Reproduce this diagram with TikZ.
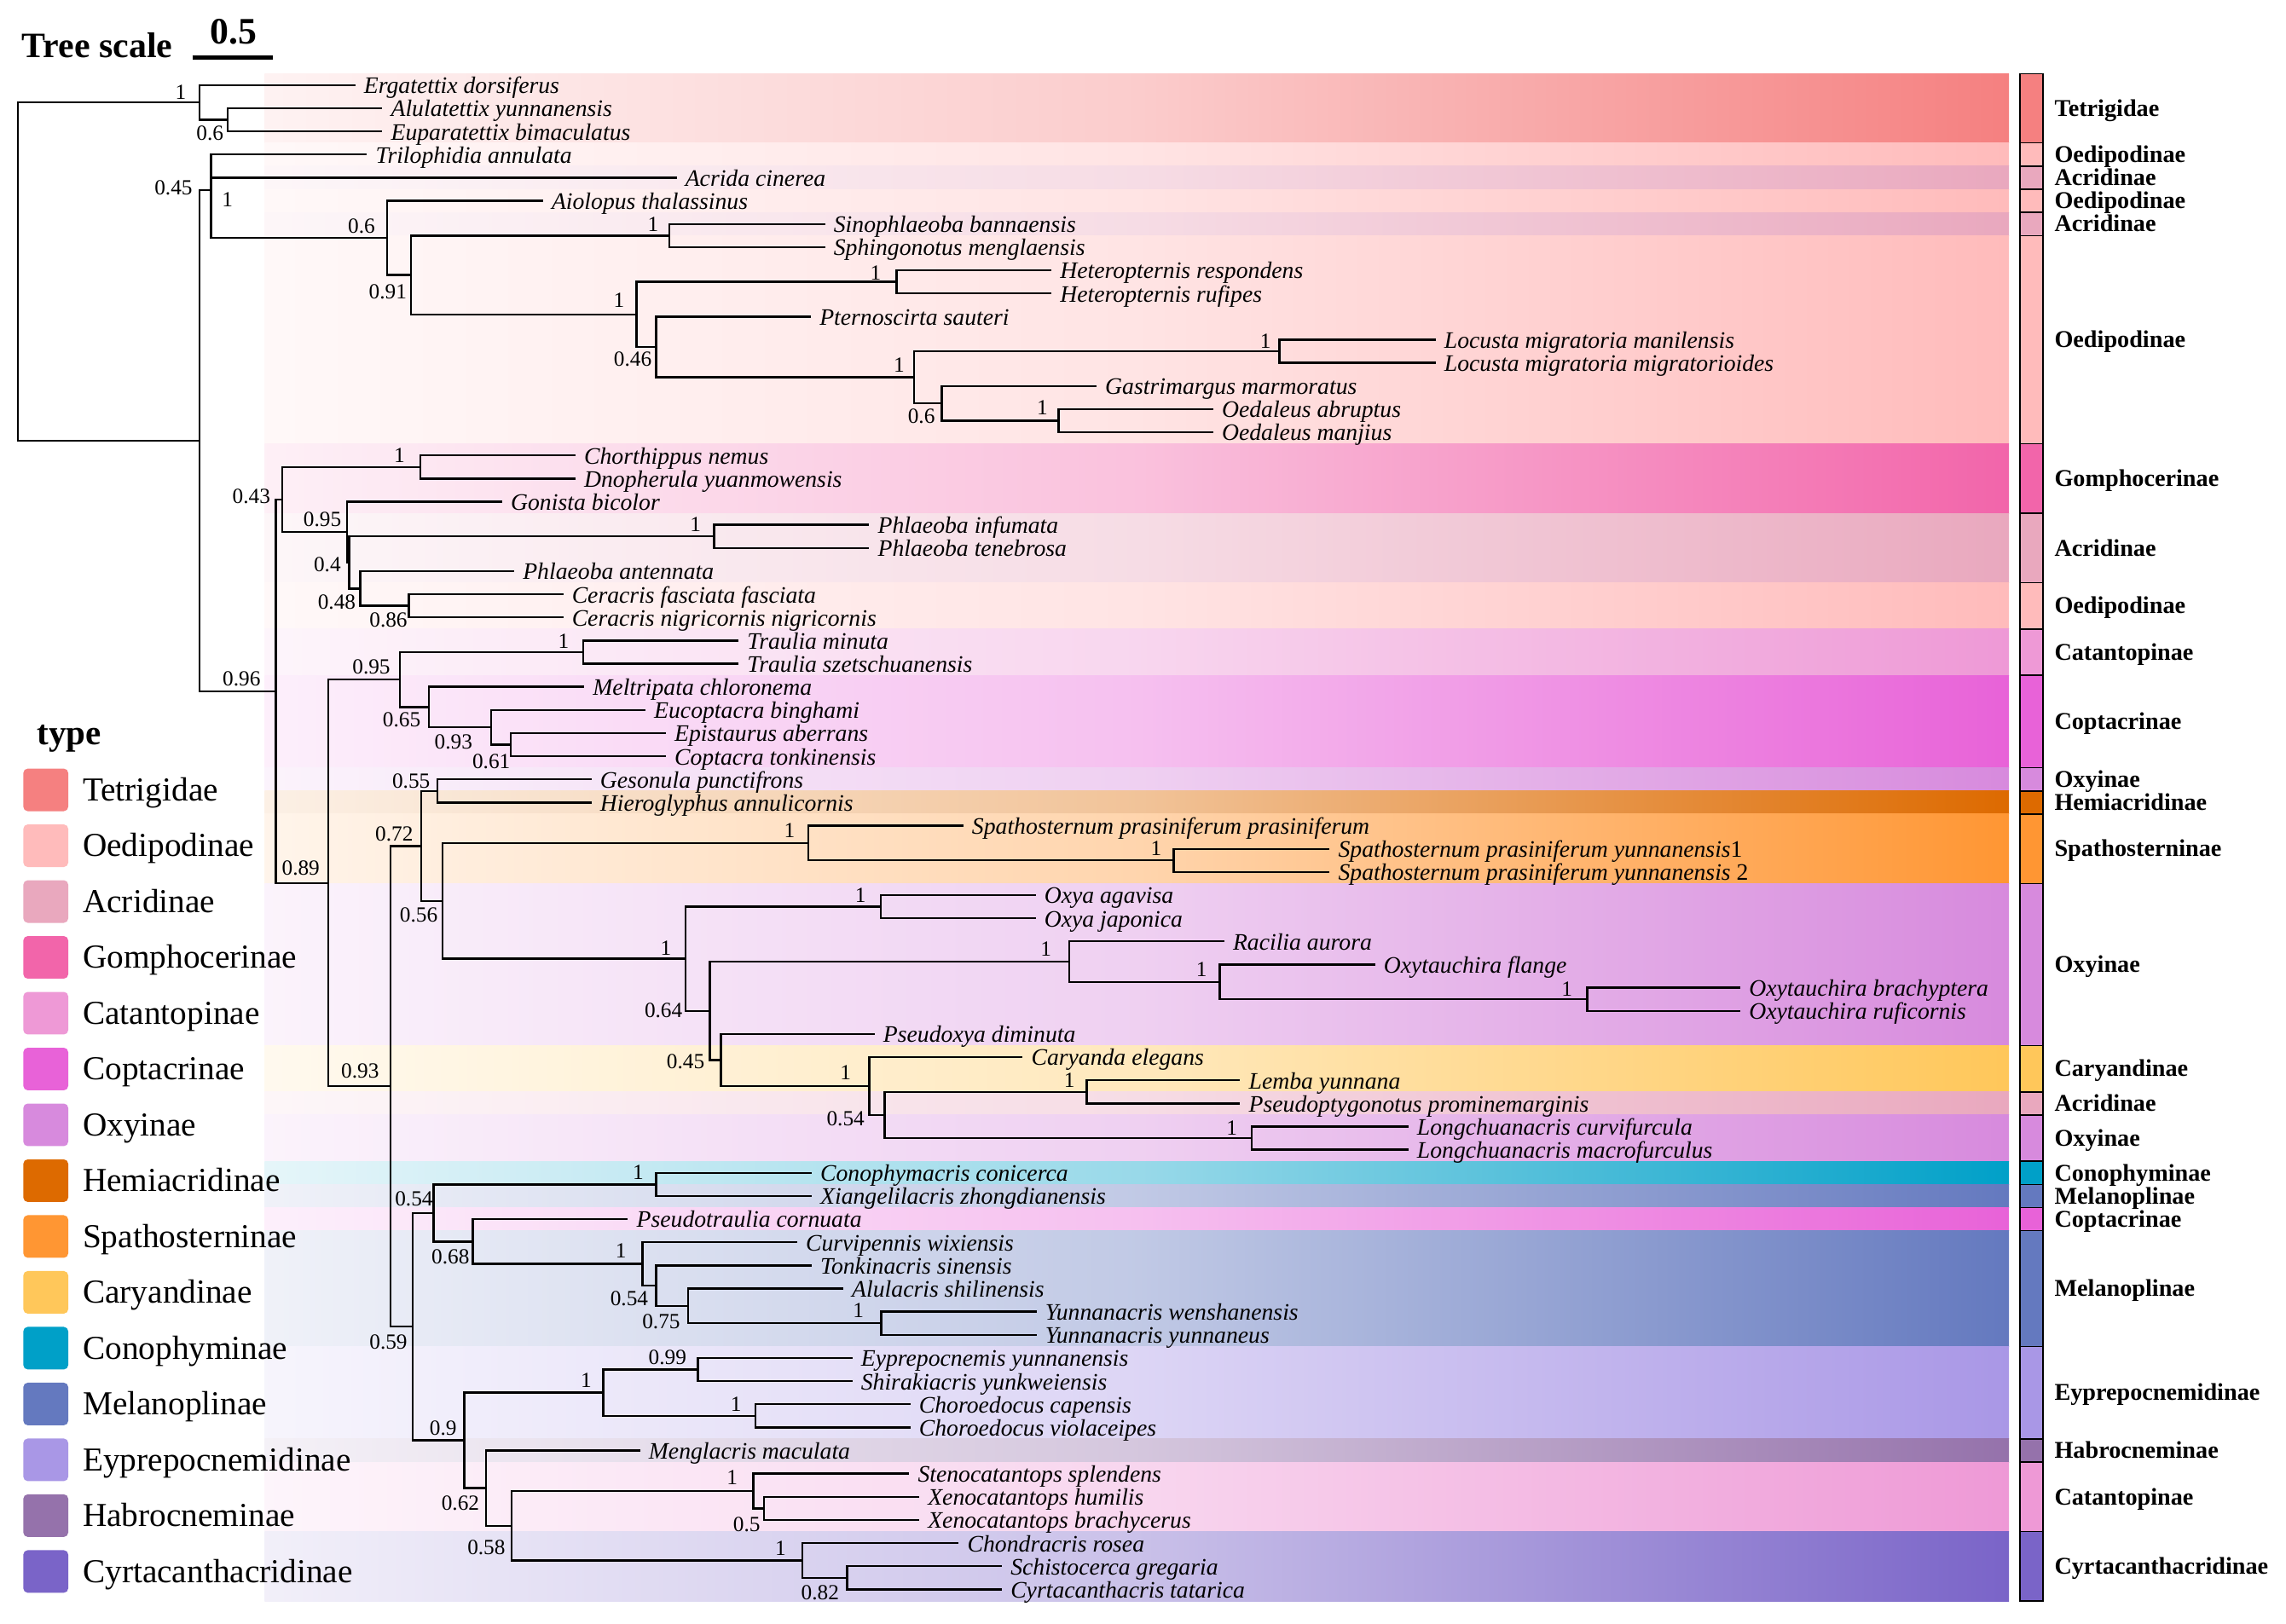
\documentclass[tikz,border=0pt]{standalone}
\usepackage{fontspec}
\setmainfont{Liberation Serif}
\definecolor{cTet}{HTML}{F58080}
\definecolor{cOed}{HTML}{FFBBBB}
\definecolor{cAcr}{HTML}{E9A8BE}
\definecolor{cGom}{HTML}{F265AA}
\definecolor{cCat}{HTML}{EE99D6}
\definecolor{cCop}{HTML}{E862D8}
\definecolor{cOxy}{HTML}{D78ADD}
\definecolor{cHem}{HTML}{DD6A00}
\definecolor{cSpa}{HTML}{FF9633}
\definecolor{cCar}{HTML}{FFC75A}
\definecolor{cCon}{HTML}{00A0C8}
\definecolor{cMel}{HTML}{6479BF}
\definecolor{cEyp}{HTML}{A997E6}
\definecolor{cHab}{HTML}{9572AB}
\definecolor{cCyr}{HTML}{7A64C8}
\newcommand\Y[1]{(58.4+15.877*((#1)-1))}
\newcommand\tip[4]{\coordinate (#1) at (#2,{\Y{#3}}); \node[tiplab] (#1l) at (#1) {#4};}
\newcommand\inode[3]{\coordinate (#1) at (#2,{\Y{#3}});}
\newcommand\kids[2]{\foreach \ch in {#2}{\draw[br] (#1) |- (\ch);}}
\newcommand\seg[5]{%
 \shade[left color=#3!10!white, right color=#3, middle color=#3!40!white] (181.5,{\Y{#1}-7.94}) rectangle (1378,{\Y{#2}+7.94});
 \draw[line width=0.9pt, fill=#3] (1385.6,{\Y{#1}-7.94}) rectangle (1401.2,{\Y{#2}+7.94});
 \node[fam] (#5) at (1409,{\Y{(#1+#2)/2}}) {#4};}
\newcommand\leg[4]{%
 \fill[#2, rounded corners=3pt] (16,{541.9+(#1-1)*38.3-14.6}) rectangle (46.8,{541.9+(#1-1)*38.3+14.6});
 \node[legt] (#4) at (56.6,{541.9+(#1-1)*38.3}) {#3};}
\begin{document}
\begin{tikzpicture}[x=1pt,y=-1pt,
 br/.style={line width=1.4pt, line cap=rect, line join=miter},
 tiplab/.style={anchor=base west, inner sep=0pt, xshift=6.5pt, yshift=-5.8pt, font=\fontsize{16.2}{18}\selectfont\itshape},
 bs/.style={inner sep=0pt, font=\fontsize{14.8}{16}\selectfont},
 fam/.style={anchor=base west, inner sep=0pt, yshift=-5.4pt, font=\fontsize{16.5}{18}\selectfont\bfseries},
 legt/.style={anchor=base west, inner sep=0pt, yshift=-7.5pt, font=\fontsize{23}{25}\selectfont}]
\fill[white] (0,0) rectangle (1568,1113.6);
\useasboundingbox (0,0) rectangle (1568,1113.6);
% bands, strip, family labels
\seg{1}{3}{cTet}{Tetrigidae}{f1}
\seg{4}{4}{cOed}{Oedipodinae}{f2}
\seg{5}{5}{cAcr}{Acridinae}{f3}
\seg{6}{6}{cOed}{Oedipodinae}{f4}
\seg{7}{7}{cAcr}{Acridinae}{f5}
\seg{8}{16}{cOed}{Oedipodinae}{f6}
\seg{17}{19}{cGom}{Gomphocerinae}{f7}
\seg{20}{22}{cAcr}{Acridinae}{f8}
\seg{23}{24}{cOed}{Oedipodinae}{f9}
\seg{25}{26}{cCat}{Catantopinae}{f10}
\seg{27}{30}{cCop}{Coptacrinae}{f11}
\seg{31}{31}{cOxy}{Oxyinae}{f12}
\seg{32}{32}{cHem}{Hemiacridinae}{f13}
\seg{33}{35}{cSpa}{Spathosterninae}{f14}
\seg{36}{42}{cOxy}{Oxyinae}{f15}
\seg{43}{44}{cCar}{Caryandinae}{f16}
\seg{45}{45}{cAcr}{Acridinae}{f17}
\seg{46}{47}{cOxy}{Oxyinae}{f18}
\seg{48}{48}{cCon}{Conophyminae}{f19}
\seg{49}{49}{cMel}{Melanoplinae}{f20}
\seg{50}{50}{cCop}{Coptacrinae}{f21}
\seg{51}{55}{cMel}{Melanoplinae}{f22}
\seg{56}{59}{cEyp}{Eyprepocnemidinae}{f23}
\seg{60}{60}{cHab}{Habrocneminae}{f24}
\seg{61}{63}{cCat}{Catantopinae}{f25}
\seg{64}{66}{cCyr}{Cyrtacanthacridinae}{f26}
% legend
\node[anchor=base west, inner sep=0pt, font=\fontsize{24}{26}\selectfont\bfseries] (legtitle) at (25.4,511) {type};
\leg{1}{cTet}{Tetrigidae}{g1}
\leg{2}{cOed}{Oedipodinae}{g2}
\leg{3}{cAcr}{Acridinae}{g3}
\leg{4}{cGom}{Gomphocerinae}{g4}
\leg{5}{cCat}{Catantopinae}{g5}
\leg{6}{cCop}{Coptacrinae}{g6}
\leg{7}{cOxy}{Oxyinae}{g7}
\leg{8}{cHem}{Hemiacridinae}{g8}
\leg{9}{cSpa}{Spathosterninae}{g9}
\leg{10}{cCar}{Caryandinae}{g10}
\leg{11}{cCon}{Conophyminae}{g11}
\leg{12}{cMel}{Melanoplinae}{g12}
\leg{13}{cEyp}{Eyprepocnemidinae}{g13}
\leg{14}{cHab}{Habrocneminae}{g14}
\leg{15}{cCyr}{Cyrtacanthacridinae}{g15}
% tree scale
\node[anchor=base west, inner sep=0pt, font=\fontsize{24.5}{26}\selectfont\bfseries] (tsc) at (15,39.3) {Tree scale};
\node[anchor=base, inner sep=0pt, font=\fontsize{25.6}{27}\selectfont\bfseries] (tsv) at (160,30.2) {0.5};
\coordinate (sb1) at (132,39.7); \coordinate (sb2) at (187,39.7);
\draw[line width=2.8pt] (sb1) -- (sb2);
% tips
\tip{t1}{243}{1}{Ergatettix dorsiferus}
\tip{t2}{261.5}{2}{Alulatettix yunnanensis}
\tip{t3}{261.5}{3}{Euparatettix bimaculatus}
\tip{t4}{251}{4}{Trilophidia annulata}
\tip{t5}{463.4}{5}{Acrida cinerea}
\tip{t6}{371.7}{6}{Aiolopus thalassinus}
\tip{t7}{565.2}{7}{Sinophlaeoba bannaensis}
\tip{t8}{565.2}{8}{Sphingonotus menglaensis}
\tip{t9}{720.5}{9}{Heteropternis respondens}
\tip{t10}{720.5}{10}{Heteropternis rufipes}
\tip{t11}{555.5}{11}{Pternoscirta sauteri}
\tip{t12}{984}{12}{Locusta migratoria manilensis}
\tip{t13}{984}{13}{Locusta migratoria migratorioides}
\tip{t14}{751.4}{14}{Gastrimargus marmoratus}
\tip{t15}{831.4}{15}{Oedaleus abruptus}
\tip{t16}{831.4}{16}{Oedaleus manjius}
\tip{t17}{394}{17}{Chorthippus nemus}
\tip{t18}{394}{18}{Dnopherula yuanmowensis}
\tip{t19}{343.7}{19}{Gonista bicolor}
\tip{t20}{595.5}{20}{Phlaeoba infumata}
\tip{t21}{595.5}{21}{Phlaeoba tenebrosa}
\tip{t22}{352}{22}{Phlaeoba antennata}
\tip{t23}{385.6}{23}{Ceracris fasciata fasciata}
\tip{t24}{385.6}{24}{Ceracris nigricornis nigricornis}
\tip{t25}{505.9}{25}{Traulia minuta}
\tip{t26}{505.9}{26}{Traulia szetschuanensis}
\tip{t27}{400}{27}{Meltripata chloronema}
\tip{t28}{442}{28}{Eucoptacra binghami}
\tip{t29}{456}{29}{Epistaurus aberrans}
\tip{t30}{456}{30}{Coptacra tonkinensis}
\tip{t31}{405}{31}{Gesonula punctifrons}
\tip{t32}{405}{32}{Hieroglyphus annulicornis}
\tip{t33}{660}{33}{Spathosternum prasiniferum prasiniferum}
\tip{t34}{911.3}{34}{Spathosternum prasiniferum yunnanensis{\upshape 1}}
\tip{t35}{911.3}{35}{Spathosternum prasiniferum yunnanensis {\upshape 2}}
\tip{t36}{709.6}{36}{Oxya agavisa}
\tip{t37}{709.6}{37}{Oxya japonica}
\tip{t38}{839}{38}{Racilia aurora}
\tip{t39}{942.4}{39}{Oxytauchira flange}
\tip{t40}{1193}{40}{Oxytauchira brachyptera}
\tip{t41}{1193}{41}{Oxytauchira ruficornis}
\tip{t42}{599.2}{42}{Pseudoxya diminuta}
\tip{t43}{700.7}{43}{Caryanda elegans}
\tip{t44}{849.9}{44}{Lemba yunnana}
\tip{t45}{849.9}{45}{Pseudoptygonotus prominemarginis}
\tip{t46}{965.3}{46}{Longchuanacris curvifurcula}
\tip{t47}{965.3}{47}{Longchuanacris macrofurculus}
\tip{t48}{556}{48}{Conophymacris conicerca}
\tip{t49}{556}{49}{Xiangelilacris zhongdianensis}
\tip{t50}{430}{50}{Pseudotraulia cornuata}
\tip{t51}{546}{51}{Curvipennis wixiensis}
\tip{t52}{556}{52}{Tonkinacris sinensis}
\tip{t53}{577.7}{53}{Alulacris shilinensis}
\tip{t54}{710.3}{54}{Yunnanacris wenshanensis}
\tip{t55}{710.3}{55}{Yunnanacris yunnaneus}
\tip{t56}{583.9}{56}{Eyprepocnemis yunnanensis}
\tip{t57}{583.9}{57}{Shirakiacris yunkweiensis}
\tip{t58}{623.7}{58}{Choroedocus capensis}
\tip{t59}{623.7}{59}{Choroedocus violaceipes}
\tip{t60}{438.3}{60}{Menglacris maculata}
\tip{t61}{622.9}{61}{Stenocatantops splendens}
\tip{t62}{629.8}{62}{Xenocatantops humilis}
\tip{t63}{629.8}{63}{Xenocatantops brachycerus}
\tip{t64}{656.9}{64}{Chondracris rosea}
\tip{t65}{686.5}{65}{Schistocerca gregaria}
\tip{t66}{686.5}{66}{Cyrtacanthacris tatarica}
% internal nodes
\inode{R}{12.2}{9.0561}
\inode{T}{137}{1.75}
\inode{A1}{156}{2.5}
\inode{X}{137}{16.3621}
\inode{U}{144.7}{5.533854}
\inode{N06}{265.5}{7.6015625}
\inode{N091}{282}{9.203125}
\inode{S1}{459.2}{7.5}
\inode{H2}{436.5}{10.90625}
\inode{H1}{615}{9.5}
\inode{P1}{450}{12.3125}
\inode{L2}{627}{13.625}
\inode{L1}{877.5}{12.5}
\inode{O2}{646}{14.75}
\inode{O1}{726}{15.5}
\inode{N096}{189.2}{27.1904}
\inode{N043}{193.6}{18.90625}
\inode{C1}{288.3}{17.5}
\inode{N095a}{237.9}{20.3125}
\inode{N04}{239.6}{21.625}
\inode{Ph1}{489.7}{20.5}
\inode{N048}{247}{22.75}
\inode{Ce}{280.5}{23.5}
\inode{N089}{225.1}{35.4746}
\inode{N095b}{274.2}{26.6875}
\inode{Tr}{400}{25.5}
\inode{N065}{294.3}{27.875}
\inode{N093}{337}{28.75}
\inode{N061}{350.4}{29.5}
\inode{N093b}{267.8}{44.2617}
\inode{N072}{288.9}{33.875}
\inode{N055}{300}{31.5}
\inode{N056}{303.4}{36.25}
\inode{Sp1}{554.3}{33.75}
\inode{Sp2}{805}{34.5}
\inode{Oxy}{470.2}{38.75}
\inode{Ox1}{604}{36.5}
\inode{N064}{487}{41}
\inode{Rac}{733.5}{38.875}
\inode{Ot1}{836.7}{39.75}
\inode{Ot2}{1088.6}{40.5}
\inode{N045}{494.6}{43.125}
\inode{Car}{596.2}{44.25}
\inode{N054a}{606.8}{45.5}
\inode{Le}{745.4}{44.5}
\inode{Lo}{858.6}{46.5}
\inode{N059}{282.9}{54.6484}
\inode{N054c}{297.3}{49.734375}
\inode{Co}{450.1}{48.5}
\inode{N068}{324.2}{50.96875}
\inode{N1c}{440.7}{51.9375}
\inode{N054b}{450.1}{52.875}
\inode{N075}{471.9}{53.75}
\inode{Yu}{604.5}{54.5}
\inode{N09}{318.5}{59.5625}
\inode{N1d}{413.8}{57.5}
\inode{N099}{478.6}{56.5}
\inode{Ch}{518}{58.5}
\inode{N062}{333.2}{61.625}
\inode{N058}{351}{63.25}
\inode{St}{516.6}{61.75}
\inode{N05}{524}{62.5}
\inode{Cd}{550.2}{64.75}
\inode{Sc}{581}{65.5}
% branches
\kids{R}{T,X}
\kids{T}{t1,A1}
\kids{A1}{t2,t3}
\kids{X}{U,N096}
\kids{U}{t4,t5,N06}
\kids{N06}{t6,N091}
\kids{N091}{S1,H2}
\kids{S1}{t7,t8}
\kids{H2}{H1,P1}
\kids{H1}{t9,t10}
\kids{P1}{t11,L2}
\kids{L2}{L1,O2}
\kids{L1}{t12,t13}
\kids{O2}{t14,O1}
\kids{O1}{t15,t16}
\kids{N096}{N043,N089}
\kids{N043}{C1,N095a}
\kids{C1}{t17,t18}
\kids{N095a}{t19,N04}
\kids{N04}{Ph1,N048}
\kids{Ph1}{t20,t21}
\kids{N048}{t22,Ce}
\kids{Ce}{t23,t24}
\kids{N089}{N095b,N093b}
\kids{N095b}{Tr,N065}
\kids{Tr}{t25,t26}
\kids{N065}{t27,N093}
\kids{N093}{t28,N061}
\kids{N061}{t29,t30}
\kids{N093b}{N072,N059}
\kids{N072}{N055,N056}
\kids{N055}{t31,t32}
\kids{N056}{Sp1,Oxy}
\kids{Sp1}{t33,Sp2}
\kids{Sp2}{t34,t35}
\kids{Oxy}{Ox1,N064}
\kids{Ox1}{t36,t37}
\kids{N064}{Rac,N045}
\kids{Rac}{t38,Ot1}
\kids{Ot1}{t39,Ot2}
\kids{Ot2}{t40,t41}
\kids{N045}{t42,Car}
\kids{Car}{t43,N054a}
\kids{N054a}{Le,Lo}
\kids{Le}{t44,t45}
\kids{Lo}{t46,t47}
\kids{N059}{N054c,N09}
\kids{N054c}{Co,N068}
\kids{Co}{t48,t49}
\kids{N068}{t50,N1c}
\kids{N1c}{t51,N054b}
\kids{N054b}{t52,N075}
\kids{N075}{t53,Yu}
\kids{Yu}{t54,t55}
\kids{N09}{N1d,N062}
\kids{N1d}{N099,Ch}
\kids{N099}{t56,t57}
\kids{Ch}{t58,t59}
\kids{N062}{t60,N058}
\kids{N058}{St,Cd}
\kids{St}{t61,N05}
\kids{N05}{t62,t63}
\kids{Cd}{t64,Sc}
\kids{Sc}{t65,t66}
% support values
\foreach \px/\py/\tx [count=\i] in {124/63/1, 144/91.6/0.6, 119/129/0.45, 156/137/1, 248/155/0.6, 266/200/0.91, 448/154/1, 600.6/187/1, 424.6/205.7/1, 434/246.6/0.46, 616.7/250.5/1, 868/234.3/1, 632/285.6/0.6, 715/279.9/1, 274/312.3/1, 172.4/340.5/0.43, 221.1/356.2/0.95, 477/359.7/1, 224.5/387.5/0.4, 231/413.2/0.48, 266.4/425.5/0.86, 386.6/439.7/1, 254.7/457.5/0.95, 165.7/465.8/0.96, 275.5/494/0.65, 311/508.7/0.93, 337/522.2/0.61, 282/535.8/0.55, 270.4/572.2/0.72, 541.5/570/1, 793/582/1, 206.3/595.5/0.89, 287.2/627.8/0.56, 590.2/614.2/1, 456.8/650.2/1, 717.4/651.2/1, 824.2/664.8/1, 1074.8/678.5/1, 455.1/693.1/0.64, 470.3/728.2/0.45, 580/736/1, 733.5/740.9/1, 247/735/0.93, 580/767.2/0.54, 845/774/1, 437.7/804.1/1, 283.9/822.7/0.54, 309/862/0.68, 425.9/857.8/1, 431.6/890.9/0.54, 453.5/906.4/0.75, 588.8/899.2/1, 266.4/920.9/0.59, 457.8/931.2/0.99, 402/946.7/1, 504.8/963.2/1, 304/979.8/0.9, 315.8/1031.4/0.62, 502.2/1013.9/1, 512.2/1045.9/0.5, 333.6/1061.4/0.58, 535.4/1062.4/1, 562.5/1092.4/0.82}
 {\node[bs] (b\i) at (\px,\py) {\tx};}
\end{tikzpicture}
\end{document}
